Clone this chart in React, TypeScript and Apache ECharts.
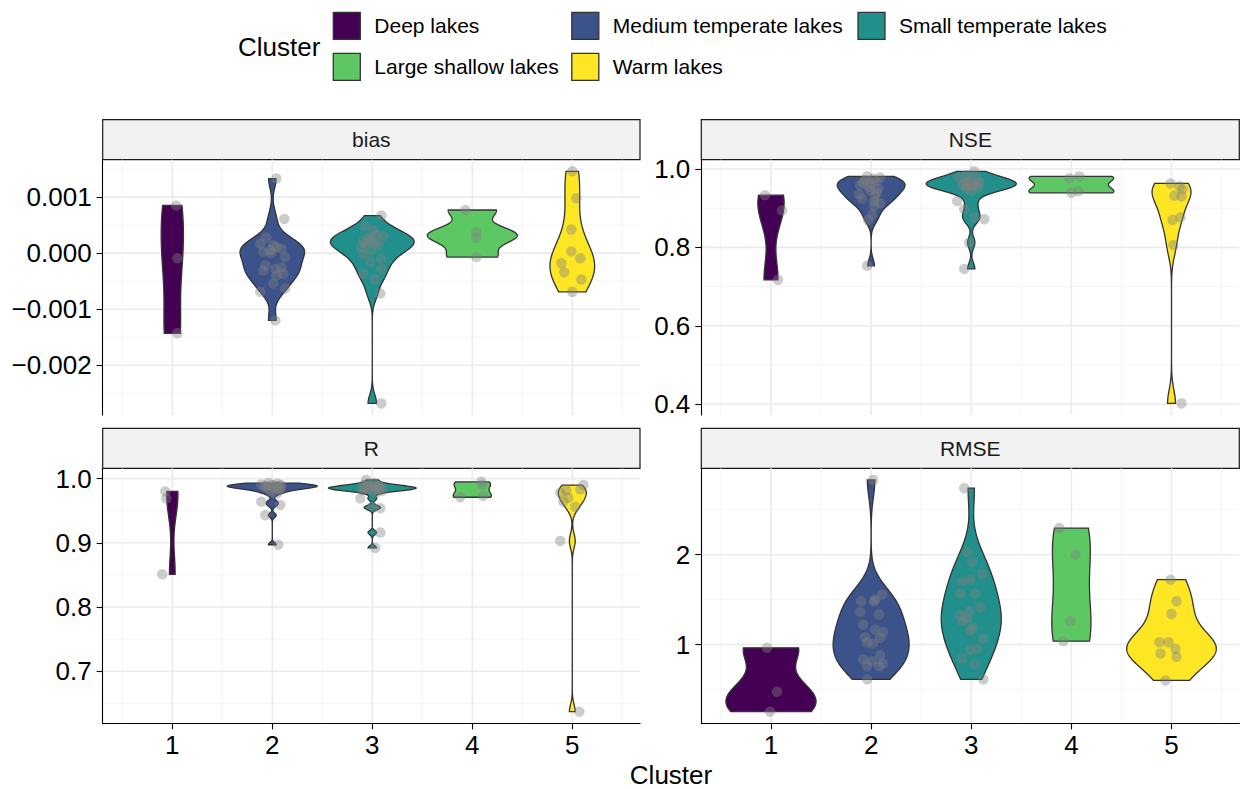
import React, { useEffect, useRef } from "react";
import * as echarts from "echarts";

const FONT = '"Liberation Sans", Arial, Helvetica, sans-serif';

const CLUSTERS = [1, 2, 3, 4, 5];
const CLUSTER_NAMES = [
  "Deep lakes",
  "Medium temperate lakes",
  "Small temperate lakes",
  "Large shallow lakes",
  "Warm lakes",
];
const CLUSTER_COLORS = ["#440154", "#3B528B", "#21908C", "#5DC863", "#FDE725"];
const PANEL_NAMES = ["bias", "NSE", "R", "RMSE"];

// [cluster, horizontal jitter, value]
const biasPoints = [
  [1, 0.04, 0.00085], [1, 0.05, -0.00009], [1, 0.05, -0.00143],
  [2, 0.04, 0.00133], [2, 0.12, 0.00061], [2, -0.06, 0.00028], [2, -0.12, 0.00017], [2, 0.01, 0.00014],
  [2, 0.04, 0.00011], [2, 0.09, 0.00008], [2, -0.02, 0.00005], [2, -0.09, 0.00002], [2, -0.01, 0.0],
  [2, 0.13, -0.00007], [2, -0.07, -0.00022], [2, 0.09, -0.00025], [2, 0.03, -0.00028], [2, -0.09, -0.00031],
  [2, 0.11, -0.00037], [2, 0.04, -0.0004], [2, 0.01, -0.00054], [2, 0.13, -0.00063], [2, -0.12, -0.00069],
  [2, 0.03, -0.0012],
  [3, 0.09, 0.00067], [3, -0.07, 0.00048], [3, 0.01, 0.0004], [3, 0.04, 0.00033], [3, 0.11, 0.0003],
  [3, -0.04, 0.00027], [3, -0.02, 0.00024], [3, -0.09, 0.00021], [3, 0.03, 0.00019], [3, -0.06, 0.00017],
  [3, 0.06, 0.00014], [3, -0.11, 0.0001], [3, -0.01, 0.00005], [3, -0.09, -0.00002], [3, 0.09, -0.0001],
  [3, -0.02, -0.00015], [3, 0.09, -0.00028], [3, -0.09, -0.00037], [3, 0.03, -0.00047], [3, 0.08, -0.00072],
  [3, 0.09, -0.00268],
  [4, -0.07, 0.00077], [4, 0.04, 0.00037], [4, 0.04, 0.00027], [4, 0.04, -0.00007],
  [5, 0.0, 0.00146], [5, 0.04, 0.00098], [5, -0.01, 0.00042], [5, -0.01, 0.00003], [5, 0.08, -0.00009],
  [5, -0.11, -0.00018], [5, -0.08, -0.00034], [5, 0.09, -0.00047], [5, 0.0, -0.00069],
];

const nsePoints = [
  [1, -0.06, 0.933], [1, 0.11, 0.894], [1, 0.07, 0.717],
  [2, -0.04, 0.981], [2, 0.09, 0.978], [2, 0.02, 0.975], [2, -0.06, 0.972], [2, 0.05, 0.968],
  [2, -0.08, 0.965], [2, 0.0, 0.962], [2, -0.11, 0.958], [2, -0.02, 0.954], [2, 0.07, 0.95],
  [2, -0.01, 0.945], [2, 0.06, 0.94], [2, -0.12, 0.935], [2, 0.04, 0.93], [2, -0.09, 0.924],
  [2, 0.03, 0.918], [2, 0.09, 0.912], [2, 0.03, 0.905], [2, 0.01, 0.884], [2, -0.03, 0.87],
  [2, -0.04, 0.753],
  [3, 0.03, 0.994], [3, -0.05, 0.984], [3, -0.12, 0.978], [3, 0.06, 0.974], [3, -0.02, 0.97],
  [3, 0.08, 0.967], [3, -0.07, 0.965], [3, 0.01, 0.963], [3, -0.04, 0.961], [3, 0.05, 0.96],
  [3, -0.09, 0.958], [3, 0.02, 0.957], [3, -0.03, 0.955], [3, 0.07, 0.953], [3, -0.05, 0.95],
  [3, 0.0, 0.944], [3, -0.14, 0.918], [3, -0.07, 0.897], [3, 0.03, 0.876], [3, 0.13, 0.872],
  [3, -0.02, 0.812], [3, -0.07, 0.745],
  [4, -0.02, 0.976], [4, 0.08, 0.981], [4, 0.0, 0.939], [4, 0.07, 0.943],
  [5, -0.01, 0.963], [5, 0.08, 0.956], [5, 0.11, 0.948], [5, 0.03, 0.932], [5, 0.1, 0.93],
  [5, 0.01, 0.87], [5, 0.09, 0.877], [5, 0.02, 0.806], [5, 0.1, 0.402],
];

const rPoints = [
  [1, -0.07, 0.98], [1, -0.06, 0.969], [1, -0.1, 0.851],
  [2, -0.04, 0.993], [2, 0.05, 0.992], [2, -0.11, 0.991], [2, 0.0, 0.99], [2, 0.09, 0.99],
  [2, -0.05, 0.989], [2, 0.03, 0.989], [2, -0.08, 0.988], [2, 0.06, 0.988], [2, -0.06, 0.987],
  [2, 0.01, 0.987], [2, 0.08, 0.986], [2, -0.03, 0.985], [2, 0.05, 0.984], [2, 0.08, 0.982],
  [2, -0.02, 0.979], [2, 0.04, 0.976], [2, -0.11, 0.964], [2, 0.08, 0.959], [2, -0.07, 0.943],
  [2, 0.06, 0.897],
  [3, -0.06, 0.998], [3, 0.02, 0.993], [3, -0.09, 0.99], [3, 0.06, 0.989], [3, -0.02, 0.988],
  [3, 0.09, 0.987], [3, -0.05, 0.986], [3, 0.03, 0.986], [3, -0.08, 0.985], [3, 0.07, 0.985],
  [3, 0.0, 0.984], [3, -0.04, 0.984], [3, 0.05, 0.983], [3, -0.1, 0.982], [3, 0.1, 0.981],
  [3, 0.04, 0.978], [3, -0.12, 0.969], [3, 0.0, 0.956], [3, 0.08, 0.954], [3, 0.08, 0.916],
  [3, 0.03, 0.892],
  [4, 0.09, 0.995], [4, 0.1, 0.99], [4, 0.11, 0.973], [4, -0.12, 0.971],
  [5, 0.11, 0.99], [5, 0.08, 0.983], [5, -0.06, 0.982], [5, -0.12, 0.978], [5, -0.04, 0.97],
  [5, -0.09, 0.964], [5, 0.03, 0.956], [5, -0.12, 0.903], [5, 0.07, 0.637],
];

const rmsePoints = [
  [1, -0.04, 0.963], [1, 0.06, 0.474], [1, -0.01, 0.252],
  [2, 0.02, 2.833], [2, 0.11, 1.556], [2, 0.04, 1.5], [2, -0.1, 1.481], [2, 0.03, 1.481],
  [2, -0.11, 1.363], [2, 0.08, 1.333], [2, -0.08, 1.222], [2, 0.04, 1.167], [2, 0.12, 1.137],
  [2, -0.06, 1.081], [2, 0.09, 1.074], [2, -0.04, 1.019], [2, 0.02, 1.011], [2, 0.09, 0.881],
  [2, -0.08, 0.833], [2, 0.01, 0.815], [2, 0.12, 0.789], [2, 0.08, 0.76], [2, -0.04, 0.759],
  [2, -0.04, 0.611],
  [3, -0.07, 2.741], [3, -0.04, 2.03], [3, 0.01, 1.919], [3, 0.11, 1.789], [3, -0.01, 1.722],
  [3, -0.09, 1.704], [3, -0.11, 1.567], [3, 0.04, 1.567], [3, 0.09, 1.415], [3, -0.02, 1.37],
  [3, -0.11, 1.326], [3, -0.04, 1.289], [3, -0.09, 1.259], [3, 0.02, 1.185], [3, -0.01, 1.16],
  [3, 0.12, 1.067], [3, 0.06, 0.956], [3, -0.01, 0.94], [3, -0.09, 0.844], [3, 0.04, 0.778],
  [3, 0.12, 0.611],
  [4, -0.12, 2.296], [4, 0.04, 2.0], [4, -0.01, 1.259], [4, -0.08, 1.037],
  [5, -0.01, 1.722], [5, 0.05, 1.481], [5, 0.0, 1.341], [5, -0.12, 1.026], [5, -0.03, 1.026],
  [5, 0.04, 0.952], [5, -0.11, 0.9], [5, 0.05, 0.863], [5, -0.06, 0.6],
];

const biasTicks = [-0.002, -0.001, 0, 0.001];
const biasMinor = [-0.0025, -0.0015, -0.0005, 0.0005, 0.0015];
const nseTicks = [0.4, 0.6, 0.8, 1.0];
const nseMinor = [0.5, 0.7, 0.9];
const rTicks = [0.7, 0.8, 0.9, 1.0];
const rMinor = [0.65, 0.75, 0.85, 0.95];
const rmseTicks = [1, 2];
const rmseMinor = [0.5, 1.5, 2.5];
const xTicks = [1, 2, 3, 4, 5];
const xMinor = [0.5, 1.5, 2.5, 3.5, 4.5, 5.5];
const X_MIN = 0.304;
const X_MAX = 5.677;

const PANEL_POINTS = [biasPoints, nsePoints, rPoints, rmsePoints];
const PANEL_TICKS = [biasTicks, nseTicks, rTicks, rmseTicks];
const PANEL_MINOR = [biasMinor, nseMinor, rMinor, rmseMinor];
const PANEL_FORMAT = [
  (v: number) => {
    const s = v.toFixed(3);
    return s.startsWith("-") ? "\u2212" + s.slice(1) : s;
  },
  (v: number) => v.toFixed(1),
  (v: number) => v.toFixed(1),
  (v: number) => String(Math.round(v)),
];

// layout (pixels)
const PANELS = [
  { left: 102.7, top: 159.7, width: 537.3, height: 255.3 },
  { left: 701.3, top: 159.7, width: 538, height: 255.3 },
  { left: 102.7, top: 468.3, width: 537.3, height: 255 },
  { left: 701.3, top: 468.3, width: 538, height: 255 },
];
const STRIP_H = 40;

function kdeProfile(vals: number[], n = 256) {
  const s = [...vals].sort((a, b) => a - b);
  const m = s.length;
  const mean = s.reduce((a, b) => a + b, 0) / m;
  const sd = Math.sqrt(s.reduce((a, b) => a + (b - mean) * (b - mean), 0) / (m - 1));
  const q = (p: number) => {
    const h = (m - 1) * p;
    const lo = Math.floor(h);
    const hi = Math.min(lo + 1, m - 1);
    return s[lo] + (h - lo) * (s[hi] - s[lo]);
  };
  const iqr = q(0.75) - q(0.25);
  let lo = Math.min(sd, iqr / 1.34);
  if (!(lo > 0)) lo = sd || Math.abs(s[0]) || 1;
  const bw = 0.9 * lo * Math.pow(m, -0.2);
  const ys: number[] = [];
  const ds: number[] = [];
  for (let j = 0; j < n; j++) {
    const y = s[0] + ((s[m - 1] - s[0]) * j) / (n - 1);
    let d = 0;
    for (const x of s) {
      const z = (y - x) / bw;
      d += Math.exp(-0.5 * z * z);
    }
    ys.push(y);
    ds.push(d / (m * bw * Math.sqrt(2 * Math.PI)));
  }
  return { ys, ds };
}

function buildOption() {
  const grids: any[] = [];
  const xAxes: any[] = [];
  const yAxes: any[] = [];
  const series: any[] = [];
  const graphics: any[] = [];

  PANELS.forEach((p, i) => {
    const pts = PANEL_POINTS[i];
    const vals = pts.map((d) => d[2]);
    const dmin = Math.min(...vals);
    const dmax = Math.max(...vals);
    const span = dmax - dmin;
    const yMin = dmin - 0.05 * span;
    const yMax = dmax + 0.05 * span;
    const isBottom = i >= 2;

    grids.push({ left: p.left, top: p.top, width: p.width, height: p.height, containLabel: false });

    xAxes.push({
      gridIndex: i,
      type: "value",
      min: X_MIN,
      max: X_MAX,
      show: isBottom,
      axisLine: { show: true, onZero: false, lineStyle: { color: "#000", width: 1.1 } },
      axisTick: { show: true, customValues: xTicks, length: 6, lineStyle: { color: "#000", width: 1.1 } },
      axisLabel: {
        show: true,
        customValues: xTicks,
        formatter: (v: number) => String(Math.round(v)),
        fontSize: 26,
        fontFamily: FONT,
        color: "#000",
        margin: 9,
      },
      splitLine: { show: false },
    });

    yAxes.push({
      gridIndex: i,
      type: "value",
      min: yMin,
      max: yMax,
      axisLine: { show: true, onZero: false, lineStyle: { color: "#000", width: 1.1 } },
      axisTick: { show: true, customValues: PANEL_TICKS[i], length: 6, lineStyle: { color: "#000", width: 1.1 } },
      axisLabel: {
        customValues: PANEL_TICKS[i],
        formatter: PANEL_FORMAT[i],
        fontSize: 26,
        fontFamily: FONT,
        color: "#000",
        margin: 11,
      },
      splitLine: { show: false },
    });

    // grid lines (minor then major), horizontal and vertical
    const gridData: any[] = [];
    PANEL_MINOR[i].forEach((v) => gridData.push([X_MIN, v, 0, 0]));
    xMinor.forEach((v) => gridData.push([v, yMin, 1, 0]));
    PANEL_TICKS[i].forEach((v) => gridData.push([X_MIN, v, 0, 1]));
    xTicks.forEach((v) => gridData.push([v, yMin, 1, 1]));
    series.push({
      type: "custom",
      xAxisIndex: i,
      yAxisIndex: i,
      silent: true,
      z: 0,
      data: gridData,
      renderItem: (params: any, api: any) => {
        const cs = params.coordSys;
        const vertical = api.value(2) === 1;
        const major = api.value(3) === 1;
        const pt = api.coord([api.value(0), api.value(1)]);
        const shape = vertical
          ? { x1: pt[0], y1: cs.y, x2: pt[0], y2: cs.y + cs.height }
          : { x1: cs.x, y1: pt[1], x2: cs.x + cs.width, y2: pt[1] };
        return {
          type: "line",
          shape,
          style: { stroke: major ? "#EBEBEB" : "#F3F3F3", lineWidth: major ? 1.6 : 0.8 },
        };
      },
    });

    // violins
    const profiles = CLUSTERS.map((c) => kdeProfile(pts.filter((d) => d[0] === c).map((d) => d[2])));
    const maxD = Math.max(...profiles.map((pr) => Math.max(...pr.ds)));
    series.push({
      type: "custom",
      name: PANEL_NAMES[i] + " violins",
      xAxisIndex: i,
      yAxisIndex: i,
      silent: true,
      z: 2,
      data: CLUSTERS.map((c, k) => [c, profiles[k].ys[0]]),
      renderItem: (params: any, api: any) => {
        const k = params.dataIndex;
        const c = CLUSTERS[k];
        const pr = profiles[k];
        const poly: number[][] = [];
        for (let j = 0; j < pr.ys.length; j++) {
          poly.push(api.coord([c + (0.45 * pr.ds[j]) / maxD, pr.ys[j]]));
        }
        for (let j = pr.ys.length - 1; j >= 0; j--) {
          poly.push(api.coord([c - (0.45 * pr.ds[j]) / maxD, pr.ys[j]]));
        }
        return {
          type: "polygon",
          shape: { points: poly },
          style: { fill: CLUSTER_COLORS[k], stroke: "#333333", lineWidth: 1.3 },
        };
      },
    });

    // jittered points
    series.push({
      type: "scatter",
      name: PANEL_NAMES[i] + " lakes",
      xAxisIndex: i,
      yAxisIndex: i,
      silent: true,
      z: 3,
      symbolSize: 10.5,
      itemStyle: { color: "rgba(127,127,127,0.5)" },
      data: pts.map((d) => [d[0] + d[1], d[2]]),
    });

    // facet strip
    graphics.push({
      type: "rect",
      shape: { x: p.left, y: p.top - STRIP_H, width: p.width, height: STRIP_H },
      style: { fill: "#F2F2F2", stroke: "#1A1A1A", lineWidth: 1.2 },
    });
    graphics.push({
      type: "text",
      x: p.left + p.width / 2,
      y: p.top - STRIP_H / 2,
      style: {
        text: PANEL_NAMES[i],
        fontSize: 21,
        fontFamily: FONT,
        fill: "#1A1A1A",
        align: "center",
        verticalAlign: "middle",
        textAlign: "center",
        textVerticalAlign: "middle",
      },
    });
  });

  // legend
  graphics.push({
    type: "text",
    x: 238,
    y: 46.5,
    style: {
      text: "Cluster",
      fontSize: 26,
      fontFamily: FONT,
      fill: "#000",
      align: "left",
      verticalAlign: "middle",
      textAlign: "left",
      textVerticalAlign: "middle",
    },
  });
  const legendCols = [333.3, 571.8, 858];
  const legendRows = [12.3, 53.3];
  CLUSTER_NAMES.forEach((name, k) => {
    const col = k % 3;
    const row = Math.floor(k / 3);
    const x = legendCols[col];
    const y = legendRows[row];
    graphics.push({
      type: "rect",
      shape: { x, y, width: 27, height: 27 },
      style: { fill: CLUSTER_COLORS[k], stroke: "#333333", lineWidth: 1.3 },
    });
    graphics.push({
      type: "text",
      x: x + 41,
      y: y + 13.5,
      style: {
        text: name,
        fontSize: 21,
        fontFamily: FONT,
        fill: "#000",
        align: "left",
        verticalAlign: "middle",
        textAlign: "left",
        textVerticalAlign: "middle",
      },
    });
  });

  // shared x-axis title
  graphics.push({
    type: "text",
    x: (PANELS[2].left + PANELS[3].left + PANELS[3].width) / 2,
    y: 775,
    style: {
      text: "Cluster",
      fontSize: 26,
      fontFamily: FONT,
      fill: "#000",
      align: "center",
      verticalAlign: "middle",
      textAlign: "center",
      textVerticalAlign: "middle",
    },
  });

  return {
    animation: false,
    backgroundColor: "#FFFFFF",
    textStyle: { fontFamily: FONT },
    grid: grids,
    xAxis: xAxes,
    yAxis: yAxes,
    series,
    graphic: { elements: graphics },
  };
}

export default function App() {
  const ref = useRef<HTMLDivElement>(null);
  useEffect(() => {
    if (!ref.current) return;
    const chart = echarts.init(ref.current, undefined, { renderer: "svg" });
    chart.setOption(buildOption() as any);
    return () => chart.dispose();
  }, []);
  return (
    <div
      ref={ref}
      style={{ position: "absolute", left: 0, top: 0, width: 1243, height: 789, background: "#fff" }}
    />
  );
}
